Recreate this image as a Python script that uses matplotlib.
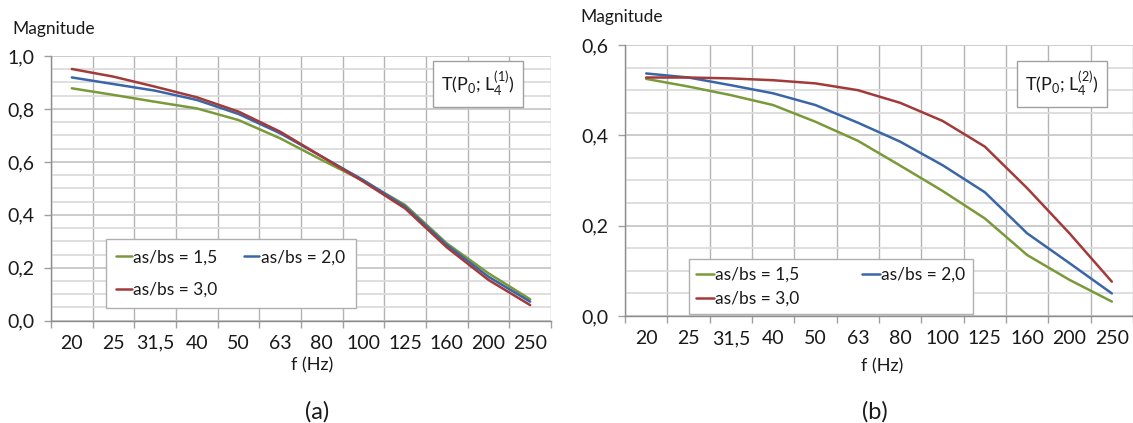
import numpy as np
import matplotlib
matplotlib.use("Agg")
from matplotlib import pyplot as plt
from matplotlib.ticker import FuncFormatter, MultipleLocator, FixedLocator

plt.rcParams['font.family'] = ['Lato', 'DejaVu Sans']
plt.rcParams['mathtext.fontset'] = 'custom'
plt.rcParams['mathtext.rm'] = 'Lato'

freqs = ['20', '25', '31,5', '40', '50', '63', '80', '100', '125', '160', '200', '250']
labels = ['as/bs = 1,5', 'as/bs = 2,0', 'as/bs = 3,0']
colors = ['#7A9A3A', '#3A66A7', '#A33A3A']

# (a) T(P0; L4(1))
a_15 = [0.878, 0.853, 0.827, 0.802, 0.758, 0.689, 0.607, 0.528, 0.437, 0.292, 0.179, 0.081]
a_20 = [0.919, 0.894, 0.869, 0.834, 0.781, 0.708, 0.620, 0.531, 0.431, 0.286, 0.166, 0.072]
a_30 = [0.951, 0.922, 0.884, 0.844, 0.790, 0.714, 0.620, 0.525, 0.424, 0.277, 0.154, 0.059]

# (b) T(P0; L4(2))
b_15 = [0.525, 0.508, 0.489, 0.467, 0.430, 0.388, 0.333, 0.277, 0.216, 0.135, 0.080, 0.032]
b_20 = [0.537, 0.528, 0.511, 0.493, 0.467, 0.428, 0.386, 0.334, 0.274, 0.183, 0.117, 0.050]
b_30 = [0.528, 0.528, 0.526, 0.522, 0.515, 0.500, 0.472, 0.432, 0.375, 0.283, 0.183, 0.076]

W, H = 1133, 423
fig = plt.figure(figsize=(W / 100, H / 100), dpi=100)


def px(x0, y0, x1, y1):
    # pixel box (top-left origin) -> figure rect
    return [x0 / W, 1 - y1 / H, (x1 - x0) / W, (y1 - y0) / H]


def panel(rect, series, ytop):
    ax = fig.add_axes(rect)
    n = len(freqs)
    x = np.arange(n) + 0.5
    lines = []
    for vals, c, lab in zip(series, colors, labels):
        ln, = ax.plot(x, vals, color=c, lw=1.8, label=lab, solid_capstyle='round')
        lines.append(ln)
    ax.set_xlim(0, n)
    ax.set_ylim(0, ytop)
    ax.xaxis.set_major_locator(FixedLocator(np.arange(n + 1)))
    ax.xaxis.set_minor_locator(FixedLocator(x))
    ax.set_xticklabels([], minor=False)
    ax.set_xticklabels(freqs, minor=True)
    ax.tick_params(axis='x', which='major', length=5, width=1, color='#a0a0a0', direction='out')
    ax.tick_params(axis='x', which='minor', length=0, pad=10, labelsize=14, labelcolor='#1a1a1a')
    ax.yaxis.set_major_locator(MultipleLocator(0.2))
    ax.yaxis.set_minor_locator(MultipleLocator(0.05))
    ax.yaxis.set_major_formatter(FuncFormatter(lambda v, p: ('%.1f' % v).replace('.', ',')))
    ax.tick_params(axis='y', which='major', length=5, width=1, color='#a0a0a0', pad=7,
                   labelsize=14, labelcolor='#1a1a1a')
    ax.tick_params(axis='y', which='minor', length=0)
    ax.grid(True, axis='x', which='major', color='#b4b4b4', lw=1.0)
    ax.grid(True, axis='y', which='major', color='#c8c8c8', lw=1.3)
    ax.grid(True, axis='y', which='minor', color='#dcdcdc', lw=1.3)
    ax.set_axisbelow(True)
    for s in ['top', 'right']:
        ax.spines[s].set_visible(False)
    for s in ['left', 'bottom']:
        ax.spines[s].set_color('#8c8c8c')
        ax.spines[s].set_linewidth(1.0)
    return ax, lines


axa, la = panel(px(51, 56, 551, 320.7), [a_15, a_20, a_30], 1.0)
axb, lb = panel(px(625, 45, 1133, 316), [b_15, b_20, b_30], 0.6)

# legend fills column-first, so reorder to get 1,5 | 2,0 on the first row
order = [0, 2, 1]
leg_a = axa.legend([la[i] for i in order], [labels[i] for i in order], ncol=2,
                   loc='upper left', frameon=True, fancybox=False, borderaxespad=0,
                   fontsize=12.5, handlelength=0.9, handletextpad=0.1, columnspacing=1.5,
                   labelspacing=0.95, borderpad=0.6,
                   bbox_to_anchor=(105.7 / W, 1 - 239 / H), bbox_transform=fig.transFigure)
leg_b = axb.legend([lb[i] for i in order], [labels[i] for i in order], ncol=2,
                   loc='upper left', frameon=True, fancybox=False, borderaxespad=0,
                   fontsize=12.5, handlelength=1.0, handletextpad=0.1, columnspacing=3.6,
                   labelspacing=0.45, borderpad=0.45,
                   bbox_to_anchor=(688.5 / W, 1 - 259 / H), bbox_transform=fig.transFigure)
for leg in (leg_a, leg_b):
    fr = leg.get_frame()
    fr.set_edgecolor('#b0b0b0')
    fr.set_linewidth(1.0)
    fr.set_alpha(1)
    for t in leg.get_texts():
        t.set_color('#1a1a1a')
    for h in leg.get_lines():
        h.set_linewidth(1.8)

box = dict(boxstyle='square,pad=0.45', fc='white', ec='#a0a0a0', lw=1.0)
fig.text(478 / W, 1 - 84 / H, r'T(P$_\mathregular{0}$; L$_\mathregular{4}^\mathregular{(1)}$)',
         ha='center', va='center', fontsize=13, bbox=box, color='#1a1a1a')
fig.text(1062 / W, 1 - 84 / H, r'T(P$_\mathregular{0}$; L$_\mathregular{4}^\mathregular{(2)}$)',
         ha='center', va='center', fontsize=13, bbox=box, color='#1a1a1a')

fig.text(12.7 / W, 1 - 29 / H, 'Magnitude', ha='left', va='center', fontsize=12.5, color='#1a1a1a')
fig.text(580.7 / W, 1 - 17.3 / H, 'Magnitude', ha='left', va='center', fontsize=12.5, color='#1a1a1a')
fig.text(312 / W, 1 - 365 / H, 'f (Hz)', ha='center', va='center', fontsize=13, color='#1a1a1a')
fig.text(882 / W, 1 - 366 / H, 'f (Hz)', ha='center', va='center', fontsize=13, color='#1a1a1a')
fig.text(317 / W, 1 - 412 / H, '(a)', ha='center', va='center', fontsize=17, color='#1a1a1a')
fig.text(875 / W, 1 - 412 / H, '(b)', ha='center', va='center', fontsize=17, color='#1a1a1a')

fig.savefig('out.png', dpi=100)
